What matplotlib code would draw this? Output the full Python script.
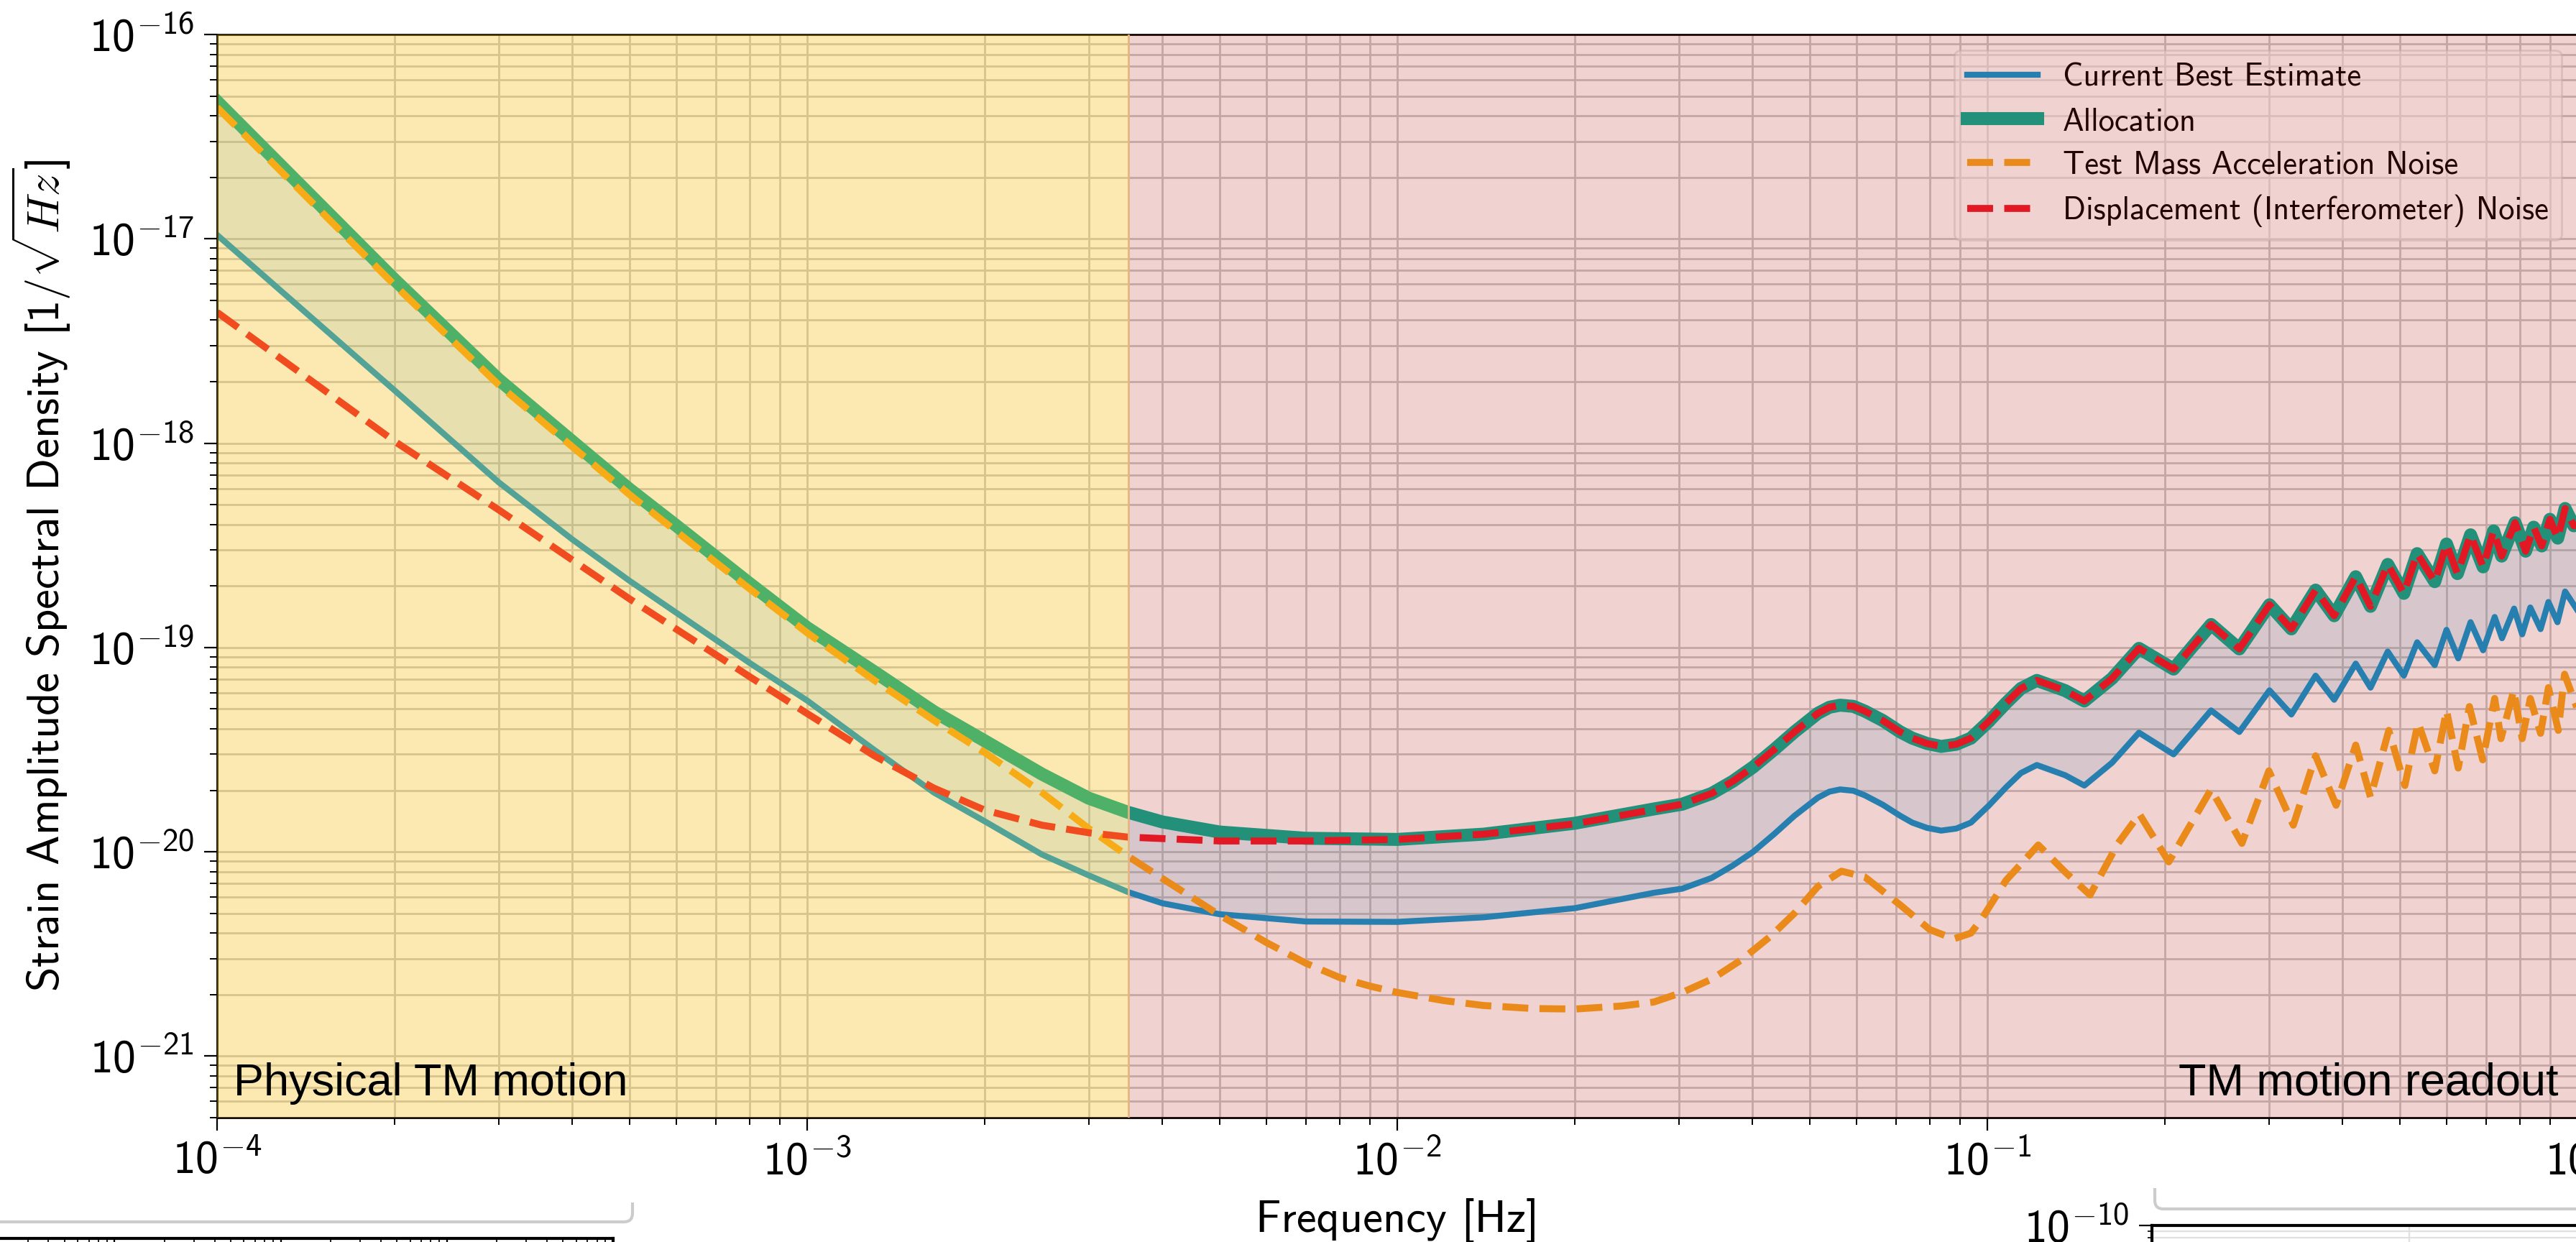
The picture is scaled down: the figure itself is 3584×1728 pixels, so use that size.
import numpy as np
import matplotlib
matplotlib.use("Agg")
import matplotlib.pyplot as plt
from matplotlib.ticker import FuncFormatter, LogLocator, NullFormatter
from matplotlib.patches import FancyBboxPatch
from matplotlib.transforms import Bbox, TransformedBbox, IdentityTransform

# ---------------- data ----------------
# Allocation (total budget), low-frequency part
alloc_f_low = [1e-4, 2e-4, 3e-4, 4e-4, 5e-4, 6e-4, 8e-4, 1e-3, 1.3e-3, 1.64e-3, 2e-3, 2.5e-3,
               3e-3, 3.5e-3, 4e-3, 5e-3, 7e-3, 1e-2, 1.4e-2, 2e-2, 2.72e-2]
alloc_v_low = [4.7e-17, 6.3e-18, 2.05e-18, 1.02e-18, 5.95e-19, 3.95e-19, 2.05e-19, 1.25e-19,
               7.6e-20, 4.85e-20, 3.49e-20, 2.4e-20, 1.83e-20, 1.56e-20, 1.4e-20, 1.25e-20,
               1.165e-20, 1.15e-20, 1.22e-20, 1.38e-20, 1.62e-20]
# Oscillating part (allocation and displacement noise coincide here)
osc_f = [0.0304, 0.0341, 0.0370, 0.0401, 0.0435, 0.0471, 0.0516, 0.0540, 0.0563, 0.0593,
         0.0620, 0.0665, 0.0712, 0.0746, 0.0790, 0.0835, 0.0886, 0.0938, 0.1005, 0.1076,
         0.1140, 0.1213, 0.1355, 0.146, 0.1627, 0.1807, 0.2068, 0.2394, 0.2673, 0.3007,
         0.3275, 0.360, 0.387, 0.421, 0.446, 0.477, 0.508, 0.535, 0.573, 0.600, 0.626,
         0.659, 0.692, 0.721, 0.744, 0.784, 0.817, 0.843, 0.870, 0.898, 0.926, 0.953,
         0.986, 1.0]
alloc_osc = [1.71e-20, 1.93e-20, 2.21e-20, 2.6e-20, 3.16e-20, 3.86e-20, 4.76e-20, 5.1e-20,
             5.22e-20, 5.15e-20, 4.88e-20, 4.39e-20, 3.86e-20, 3.6e-20, 3.39e-20, 3.28e-20,
             3.36e-20, 3.6e-20, 4.34e-20, 5.35e-20, 6.3e-20, 6.9e-20, 6.15e-20, 5.47e-20,
             7.06e-20, 9.9e-20, 7.84e-20, 1.296e-19, 9.84e-20, 1.618e-19, 1.233e-19,
             1.91e-19, 1.43e-19, 2.22e-19, 1.59e-19, 2.55e-19, 1.84e-19, 2.88e-19, 2.1e-19,
             3.21e-19, 2.3e-19, 3.56e-19, 2.48e-19, 3.72e-19, 2.8e-19, 4.08e-19, 2.96e-19,
             3.88e-19, 3.14e-19, 4.24e-19, 3.43e-19, 4.79e-19, 3.94e-19, 4.0e-19]

# Displacement (interferometer) noise, low-frequency part
disp_f_low = [1e-4, 2e-4, 3e-4, 4e-4, 5e-4, 6e-4, 8e-4, 1e-3, 1.3e-3, 1.64e-3, 2e-3, 2.5e-3,
              3e-3, 3.5e-3, 5e-3, 7e-3, 1e-2, 1.4e-2, 2e-2, 2.72e-2]
disp_v_low = [4.37e-18, 1.02e-18, 4.72e-19, 2.68e-19, 1.73e-19, 1.23e-19, 7.18e-20, 4.75e-20,
              2.95e-20, 2.05e-20, 1.6e-20, 1.35e-20, 1.24e-20, 1.18e-20, 1.13e-20, 1.13e-20,
              1.15e-20, 1.22e-20, 1.37e-20, 1.61e-20]

# Current best estimate
cbe_f_low = [1e-4, 2e-4, 3e-4, 4e-4, 5e-4, 6e-4, 8e-4, 1e-3, 1.3e-3, 1.64e-3, 2e-3, 2.5e-3,
             3e-3, 3.5e-3, 4e-3, 5e-3, 7e-3, 1e-2, 1.4e-2, 2e-2, 2.72e-2]
cbe_v_low = [1.045e-17, 1.81e-18, 6.44e-19, 3.38e-19, 2.12e-19, 1.48e-19, 8.38e-20, 5.5e-20,
             3.15e-20, 1.95e-20, 1.41e-20, 9.7e-21, 7.67e-21, 6.35e-21, 5.6e-21, 4.95e-21,
             4.56e-21, 4.54e-21, 4.78e-21, 5.3e-21, 6.3e-21]
cbe_f_osc = [0.0304, 0.0341, 0.0370, 0.0401, 0.0435, 0.0471, 0.0516, 0.0540, 0.0563, 0.0593,
             0.0620, 0.0665, 0.0712, 0.0746, 0.0790, 0.0835, 0.0886, 0.0938, 0.1005, 0.1076,
             0.1140, 0.1213, 0.1355, 0.146, 0.1627, 0.1807, 0.2068, 0.2394, 0.2673, 0.3007,
             0.3275, 0.360, 0.387, 0.421, 0.446, 0.477, 0.508, 0.535, 0.573, 0.600, 0.628,
             0.659, 0.692, 0.724, 0.745, 0.781, 0.806, 0.832, 0.866, 0.893, 0.925, 0.953, 1.0]
cbe_v_osc = [6.6e-21, 7.45e-21, 8.55e-21, 1.0e-20, 1.22e-20, 1.5e-20, 1.84e-20, 1.97e-20,
             2.02e-20, 1.99e-20, 1.89e-20, 1.7e-20, 1.5e-20, 1.39e-20, 1.31e-20, 1.27e-20,
             1.3e-20, 1.39e-20, 1.68e-20, 2.07e-20, 2.43e-20, 2.66e-20, 2.37e-20, 2.11e-20,
             2.73e-20, 3.83e-20, 3.0e-20, 4.92e-20, 3.86e-20, 6.17e-20, 4.7e-20, 7.28e-20,
             5.55e-20, 8.34e-20, 6.36e-20, 9.55e-20, 7.28e-20, 1.06e-19, 8.2e-20, 1.22e-19,
             8.85e-20, 1.33e-19, 9.69e-20, 1.41e-19, 1.11e-19, 1.55e-19, 1.16e-19, 1.57e-19,
             1.23e-19, 1.67e-19, 1.33e-19, 1.88e-19, 1.52e-19]

# Test mass acceleration noise
tm_f_low = [1e-4, 2e-4, 3e-4, 4e-4, 5e-4, 6e-4, 8e-4, 1e-3, 1.3e-3, 1.64e-3, 2e-3, 2.5e-3,
            3e-3, 3.5e-3, 4e-3, 5e-3, 6e-3, 7e-3, 8e-3, 9e-3, 1e-2, 1.2e-2, 1.4e-2, 1.7e-2,
            2e-2, 2.4e-2, 2.72e-2]
tm_v_low = [4.4e-17, 5.93e-18, 1.93e-18, 9.6e-19, 5.6e-19, 3.7e-19, 1.93e-19, 1.18e-19,
            6.9e-20, 4.4e-20, 3.06e-20, 1.95e-20, 1.3e-20, 9.5e-21, 7.4e-21, 4.9e-21, 3.6e-21,
            2.85e-21, 2.42e-21, 2.2e-21, 2.05e-21, 1.87e-21, 1.77e-21, 1.71e-21, 1.70e-21,
            1.76e-21, 1.84e-21]
tm_f_osc = [0.0304, 0.0341, 0.0383, 0.0430, 0.0471, 0.0516, 0.0566, 0.0620, 0.0712, 0.0799,
            0.0877, 0.0938, 0.0982, 0.1076, 0.122, 0.1355, 0.1493, 0.1665, 0.181, 0.203,
            0.2394, 0.270, 0.300, 0.330, 0.360, 0.39, 0.421, 0.446, 0.479, 0.51, 0.537,
            0.573, 0.600, 0.628, 0.656, 0.691, 0.724, 0.742, 0.78, 0.806, 0.832, 0.866,
            0.893, 0.928, 0.951, 1.0]
tm_v_osc = [2.05e-21, 2.38e-21, 2.96e-21, 3.88e-21, 5.0e-21, 6.76e-21, 8.04e-21, 7.53e-21,
            5.49e-21, 4.16e-21, 3.75e-21, 4.0e-21, 4.78e-21, 7.26e-21, 1.08e-20, 7.96e-21,
            6.15e-21, 1.1e-20, 1.53e-20, 8.93e-21, 2.02e-20, 1.1e-20, 2.49e-20, 1.35e-20,
            2.95e-20, 1.69e-20, 3.33e-20, 1.85e-20, 3.93e-20, 2.11e-20, 4.29e-20, 2.49e-20,
            4.92e-20, 2.57e-20, 5.14e-20, 2.82e-20, 5.63e-20, 3.58e-20, 6.17e-20, 3.58e-20,
            5.63e-20, 3.8e-20, 6.36e-20, 3.93e-20, 7.4e-20, 4.99e-20]

labels = ["Current Best Estimate", "Allocation", "Test Mass Acceleration Noise",
          "Displacement (Interferometer) Noise"]
region_edges = [1e-4, 3.5e-3, 1.0]
region_names = ["Physical TM motion", "TM motion readout"]

# ---------------- assemble series ----------------
alloc_f = np.array(alloc_f_low + osc_f)
alloc_v = np.array(alloc_v_low + alloc_osc)
disp_f = np.array(disp_f_low + osc_f)
disp_v = np.array(disp_v_low + alloc_osc)
cbe_f = np.array(cbe_f_low + cbe_f_osc)
cbe_v = np.array(cbe_v_low + cbe_v_osc)
tm_f = np.array(tm_f_low + tm_f_osc)
tm_v = np.array(tm_v_low + tm_v_osc)

# ---------------- style ----------------
plt.rcParams["font.family"] = ["cmss10", "DejaVu Sans"]
plt.rcParams["mathtext.fontset"] = "custom"
plt.rcParams["mathtext.rm"] = "cmss10"
plt.rcParams["mathtext.sf"] = "cmss10"
plt.rcParams["mathtext.bf"] = "cmss10"
plt.rcParams["mathtext.it"] = "cmmi10"
plt.rcParams["mathtext.fallback"] = "cm"
plt.rcParams["axes.formatter.use_mathtext"] = True

C_BLUE = (5 / 255, 152 / 255, 215 / 255)
C_GREEN = (0 / 255, 174 / 255, 148 / 255)
C_ORANGE = (248 / 255, 166 / 255, 28 / 255)
C_RED = (238 / 255, 25 / 255, 40 / 255)
C_YELLOW = (246 / 255, 186 / 255, 14 / 255)
C_PINK = (180 / 255, 30 / 255, 20 / 255)

W, H, DPI = 3584, 1728, 200
fig = plt.figure(figsize=(W / DPI, H / DPI), dpi=DPI)
fig.patch.set_facecolor("white")

ax = fig.add_axes([302 / W, 1 - 1555 / H, 3284 / W, 1507 / H])
ax.set_xscale("log")
ax.set_yscale("log")

ax.fill(np.concatenate([alloc_f, cbe_f[::-1]]), np.concatenate([alloc_v, cbe_v[::-1]]),
        color=C_BLUE, alpha=0.12, lw=0, zorder=1)
ax.plot(cbe_f, cbe_v, color=C_BLUE, lw=3.0, label=labels[0], zorder=2.2)
ax.plot(alloc_f, alloc_v, color=C_GREEN, lw=6.5, label=labels[1], zorder=2.1)
ax.plot(tm_f, tm_v, "--", color=C_ORANGE, lw=3.5, label=labels[2], zorder=2.3)
ax.plot(disp_f, disp_v, "--", color=C_RED, lw=3.5, label=labels[3], zorder=2.4)

ax.set_xlim(1e-4, 1.0)
ax.set_ylim(5e-22, 1e-16)

fmt = FuncFormatter(lambda v, p: r"$10^{%d}$" % int(round(np.log10(v))))
for axis in (ax.xaxis, ax.yaxis):
    axis.set_major_locator(LogLocator(base=10, numticks=30))
    axis.set_minor_locator(LogLocator(base=10, subs=np.arange(2, 10), numticks=200))
    axis.set_major_formatter(fmt)
    axis.set_minor_formatter(NullFormatter())
ax.tick_params(which="major", length=6.5, width=0.8, labelsize=23, pad=5)
ax.tick_params(which="minor", length=3.6, width=0.7)
ax.grid(True, which="both", color="#c9c9c9", lw=1.0)
ax.set_axisbelow(True)
for s in ax.spines.values():
    s.set_linewidth(1.0)

ax.set_xlabel("Frequency [Hz]", fontsize=22.5, labelpad=7)
ax.set_ylabel(r"Strain Amplitude Spectral Density $[1/\sqrt{Hz}]$", fontsize=22.5, labelpad=8)

leg = ax.legend(loc="upper right", fontsize=16, framealpha=0.5, edgecolor="0.8",
                fancybox=True, labelspacing=0.45, handlelength=2.2, borderaxespad=0.5)
leg.set_zorder(5)

# coloured regions drawn as translucent overlays
ax.axvspan(region_edges[0], region_edges[1], color=C_YELLOW, alpha=0.32, lw=0, zorder=6)
ax.axvspan(region_edges[1], region_edges[2], color=C_PINK, alpha=0.2, lw=0, zorder=6)
ax.axvline(region_edges[1], color="#e6b383", lw=1.0, zorder=6.5)

ax.text(0.007, 0.0206, region_names[0], transform=ax.transAxes, ha="left", va="baseline",
        fontsize=22.7, family="Liberation Sans", color="black", zorder=10)
ax.text(0.992, 0.0206, region_names[1], transform=ax.transAxes, ha="right", va="baseline",
        fontsize=22.7, family="Liberation Sans", color="black", zorder=10)

# ---------------- fragments of neighbouring panels at the bottom ----------------
axL = fig.add_axes([-0.02, -0.3, 853 / W + 0.02, 0.3 + 5 / H])
axL.set_xscale("log")
axL.set_xlim(1e-4, 1.0)
axL.grid(True, which="both", color="0.88", lw=0.8)
axL.tick_params(which="both", direction="in", top=True, labelbottom=False, labelleft=False)
for s in axL.spines.values():
    s.set_linewidth(1.5)

axR = fig.add_axes([2994 / W, -0.3, 0.2, 0.3 + 23 / H])
axR.set_xscale("log")
axR.set_yscale("log")
axR.set_xlim(1e-4, 1.0)
axR.set_ylim(1e-13, 1e-10)
axR.yaxis.set_major_locator(LogLocator(base=10, numticks=10))
axR.yaxis.set_major_formatter(fmt)
axR.yaxis.set_minor_formatter(NullFormatter())
axR.grid(True, which="both", color="0.88", lw=0.8)
axR.tick_params(which="major", length=6.5, width=0.8, labelsize=23, pad=5)
axR.tick_params(axis="x", labelbottom=False)
for s in axR.spines.values():
    s.set_linewidth(1.5)

ident = IdentityTransform()
boxL = FancyBboxPatch((-60, H - 1700), 940, 90, boxstyle="round,pad=0,rounding_size=12",
                      transform=ident, fc="none", ec="0.8", lw=1.5)
boxL.set_clip_box(TransformedBbox(Bbox([[-100, 0], [W + 100, H - 1673]]), ident))
boxL.set_clip_on(True)
fig.add_artist(boxL, clip=False)
boxR = FancyBboxPatch((2998, H - 1682), 800, 90, boxstyle="round,pad=0,rounding_size=12",
                      transform=ident, fc="none", ec="0.8", lw=1.5)
boxR.set_clip_box(TransformedBbox(Bbox([[-100, 0], [W + 100, H - 1653]]), ident))
boxR.set_clip_on(True)
fig.add_artist(boxR, clip=False)

fig.savefig("out.png", dpi=DPI)
